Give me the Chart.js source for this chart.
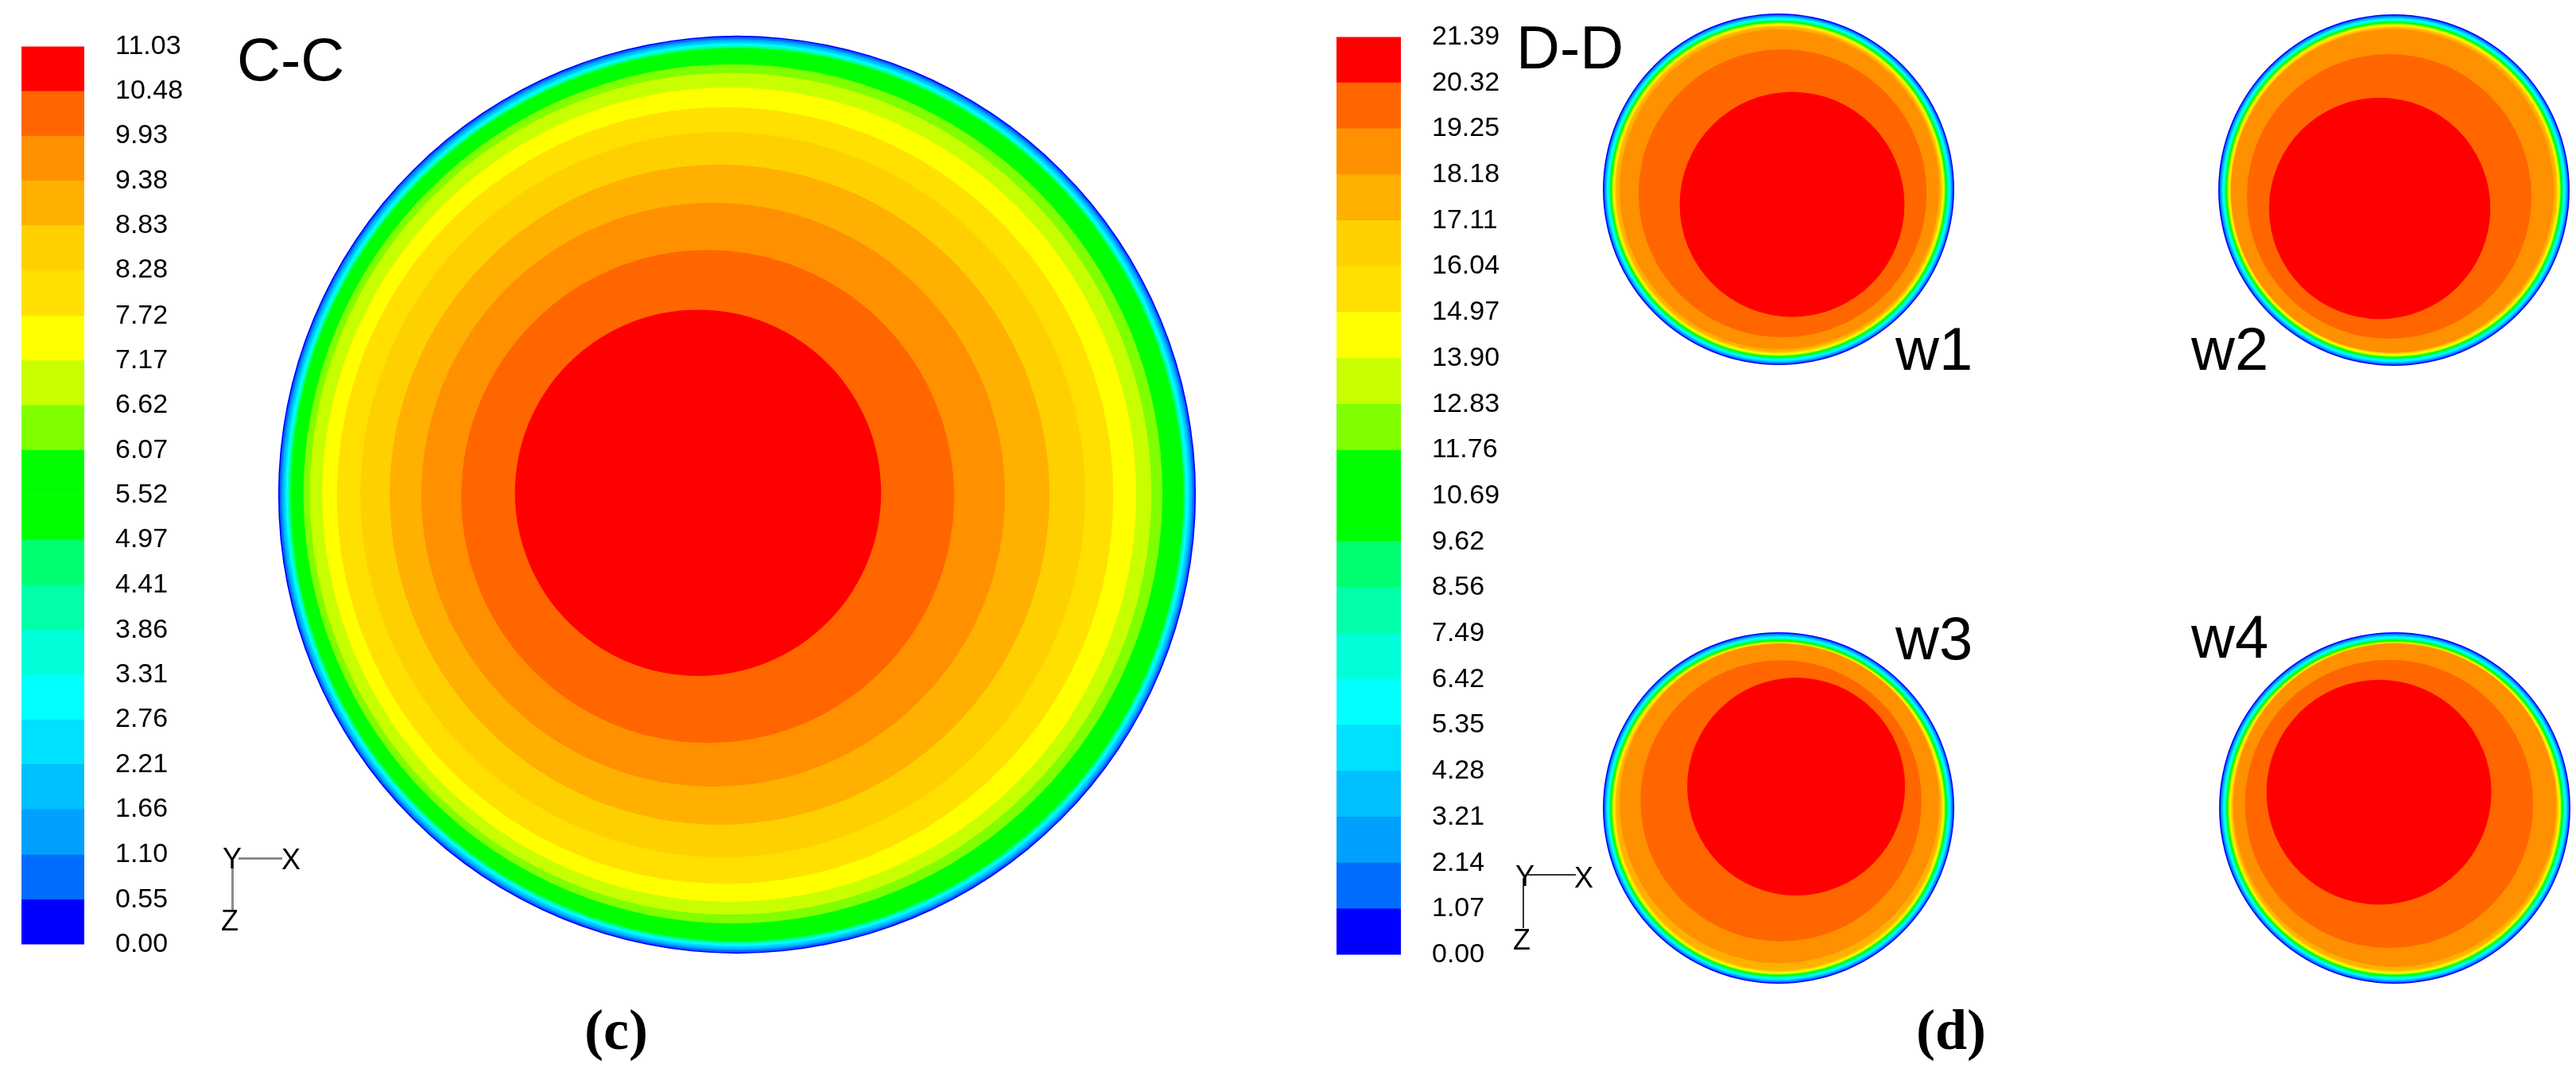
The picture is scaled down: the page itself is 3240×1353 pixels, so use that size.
<!DOCTYPE html>
<html>
<head>
<meta charset="utf-8">
<script src="https://cdn.jsdelivr.net/npm/chart.js@4.4.1/dist/chart.umd.min.js"></script>
<style>
  body { margin: 0; width: 3240px; height: 1353px; background: #fff; position: relative; overflow: hidden; }
  canvas, .txt, .ln { position: absolute; }
  .txt { font-family: "Liberation Sans", Arial, sans-serif; line-height: 1; color: #000; white-space: nowrap; }
  .cap { font-family: "Liberation Serif", "Times New Roman", serif; font-weight: bold; font-size: 72px; line-height: 1; position: absolute; }
</style>
</head>
<body>

<canvas id="cbar_c" width="239" height="1248" style="left:27px; top:-1px;"></canvas>
<canvas id="sec_c" width="1212" height="1212" style="left:321px; top:16px;"></canvas>
<canvas id="cbar_d" width="241" height="1273" style="left:1681px; top:-13px;"></canvas>
<canvas id="w1" width="464" height="464" style="left:2005px; top:6px;"></canvas>
<canvas id="w2" width="464" height="464" style="left:2779px; top:7px;"></canvas>
<canvas id="w3" width="464" height="464" style="left:2005px; top:784px;"></canvas>
<canvas id="w4" width="464" height="464" style="left:2780px; top:784px;"></canvas>

<div class="txt" style="left:298px; top:37px; font-size:76px;">C-C</div>
<div class="txt" style="left:1907px; top:22px; font-size:76px;">D-D</div>
<div class="txt" style="left:2384px; top:401px; font-size:76px;">w1</div>
<div class="txt" style="left:2756px; top:401px; font-size:76px;">w2</div>
<div class="txt" style="left:2384px; top:765px; font-size:76px;">w3</div>
<div class="txt" style="left:2756px; top:763px; font-size:76px;">w4</div>

<!-- axis triad (c) -->
<div class="ln" style="left:300px; top:1078px; width:55px; height:3px; background:#8c8c8c;"></div>
<div class="ln" style="left:291px; top:1082px; width:3px; height:64px; background:#8c8c8c;"></div>
<div class="txt" style="left:280px; top:1062px; font-size:36px;">Y</div>
<div class="txt" style="left:354px; top:1063px; font-size:36px;">X</div>
<div class="txt" style="left:278px; top:1140px; font-size:36px;">Z</div>

<!-- axis triad (d) -->
<div class="ln" style="left:1922px; top:1099px; width:60px; height:2px; background:#333;"></div>
<div class="ln" style="left:1915px; top:1104px; width:2px; height:63px; background:#333;"></div>
<div class="txt" style="left:1906px; top:1084px; font-size:36px;">Y</div>
<div class="txt" style="left:1980px; top:1086px; font-size:36px;">X</div>
<div class="txt" style="left:1903px; top:1164px; font-size:36px;">Z</div>

<div class="cap" style="left:735px; top:1259px;">(c)</div>
<div class="cap" style="left:2410px; top:1259px;">(d)</div>

<script>
// contour levels (colour bar boundaries)
const cLevels = [0.00, 0.55, 1.10, 1.66, 2.21, 2.76, 3.31, 3.86, 4.41, 4.97, 5.52,
                 6.07, 6.62, 7.17, 7.72, 8.28, 8.83, 9.38, 9.93, 10.48, 11.03];
const dLevels = [0.00, 1.07, 2.14, 3.21, 4.28, 5.35, 6.42, 7.49, 8.56, 9.62, 10.69,
                 11.76, 12.83, 13.90, 14.97, 16.04, 17.11, 18.18, 19.25, 20.32, 21.39];

// one colour per band, lowest band first
const bandColors = ['#0000ff', '#006cff', '#00a0ff', '#00c0ff', '#00e0ff', '#00ffff', '#00ffd8',
                    '#00ffa8', '#00ff70', '#00ff00', '#00ff00', '#80ff00', '#c8ff00', '#ffff00',
                    '#ffe000', '#ffd000', '#ffb000', '#ff9000', '#ff6600', '#ff0000'];

// section C-C : outer edge of every band region (r/R) and its centre offset
const cRadius  = [1.000, 0.997, 0.993, 0.990, 0.986, 0.983, 0.980, 0.978, 0.975, 0.973,
                  0.967, 0.936, 0.917, 0.887, 0.846, 0.790, 0.719, 0.636, 0.537, 0.399];
const cOffsetX = [0, 0, 0, 0, 0, 0, 0, 0, 0, 0,
                  0, -0.009, -0.014, -0.017, -0.026, -0.031, -0.038, -0.052, -0.064, -0.085];
const cOffsetY = [0, 0, 0, 0, 0, 0, 0, 0, 0, 0,
                  -0.005, 0.002, 0.002, 0, -0.002, 0, 0, 0, -0.004, 0.004];

// section D-D : thin wall bands shared by the four wells (bands 0..16)
const wellEdgeRadius = [1.000, 0.993, 0.988, 0.983, 0.979, 0.975, 0.969, 0.965, 0.961,
                        0.957, 0.953, 0.949, 0.945, 0.940, 0.936, 0.931, 0.925];

// core bands 17..19 of each well
const w1CoreRadius = [0.91, 0.82, 0.64];
const w1CoreX = [0.005, 0.023, 0.077];
const w1CoreY = [0, -0.023, -0.086];
const w2CoreRadius = [0.92, 0.81, 0.63];
const w2CoreX = [-0.009, -0.027, -0.081];
const w2CoreY = [-0.005, -0.036, -0.104];
const w3CoreRadius = [0.91, 0.80, 0.62];
const w3CoreX = [0.005, 0.014, 0.10];
const w3CoreY = [0.027, 0.041, 0.122];
const w4CoreRadius = [0.92, 0.82, 0.64];
const w4CoreX = [0, -0.032, -0.09];
const w4CoreY = [0.018, 0.023, 0.09];

const labelFont = { family: 'Liberation Sans', size: 34 };

function colorbar_chart(id, levels) {
  const datasets = bandColors.map((c, i) => ({
    data: [levels[i + 1] - levels[i]],
    backgroundColor: c,
    borderWidth: 0,
    barPercentage: 1,
    categoryPercentage: 1
  }));

  new Chart(document.getElementById(id), {
    type: 'bar',
    data: { labels: [''], datasets: datasets },
    options: {
      responsive: false,
      animation: false,
      events: [],
      layout: { padding: { top: 30, bottom: 30, left: 0, right: 0 } },
      plugins: { legend: { display: false }, tooltip: { enabled: false } },
      scales: {
        x: { display: false, stacked: true },
        y: {
          stacked: true,
          position: 'right',
          min: 0,
          max: levels[levels.length - 1],
          grid: { display: false, drawTicks: false, tickLength: 0 },
          border: { display: false },
          afterBuildTicks: (scale) => {
            scale.ticks = levels.map(v => ({ value: v }));
          },
          afterFit: (scale) => {
            scale.width = 160;
          },
          ticks: {
            autoSkip: false,
            padding: 39,
            color: '#000',
            font: labelFont,
            callback: (value, index) => levels[index].toFixed(2)
          }
        }
      }
    }
  });
}

function section_chart(id, xs, ys, radii) {
  new Chart(document.getElementById(id), {
    type: 'bubble',
    data: {
      datasets: [{
        // parsing off so the radius is resolved after the scales are laid out
        parsing: false,
        data: xs.map((x, i) => ({ x: x, y: ys[i] })),
        backgroundColor: bandColors,
        borderWidth: 0,
        clip: false,
        // band radius is in r/R units, turned into pixels through the x scale
        radius: (ctx) => {
          const s = ctx.chart.scales.x;
          const r = radii[ctx.dataIndex] || 0;
          const px = Math.abs(s.getPixelForValue(r) - s.getPixelForValue(0));
          return isNaN(px) ? 0 : px;
        }
      }]
    },
    options: {
      responsive: false,
      animation: false,
      events: [],
      layout: { padding: 0 },
      plugins: { legend: { display: false }, tooltip: { enabled: false } },
      scales: {
        x: { type: 'linear', min: -1.05, max: 1.05, display: false },
        y: { type: 'linear', min: -1.05, max: 1.05, display: false }
      }
    }
  });
}

function well_chart(id, coreRadius, coreX, coreY) {
  const zeros = wellEdgeRadius.map(() => 0);
  section_chart(id,
    zeros.concat(coreX),
    zeros.concat(coreY),
    wellEdgeRadius.concat(coreRadius));
}

colorbar_chart('cbar_c', cLevels);
colorbar_chart('cbar_d', dLevels);
section_chart('sec_c', cOffsetX, cOffsetY, cRadius);
well_chart('w1', w1CoreRadius, w1CoreX, w1CoreY);
well_chart('w2', w2CoreRadius, w2CoreX, w2CoreY);
well_chart('w3', w3CoreRadius, w3CoreX, w3CoreY);
well_chart('w4', w4CoreRadius, w4CoreX, w4CoreY);
</script>
</body>
</html>
